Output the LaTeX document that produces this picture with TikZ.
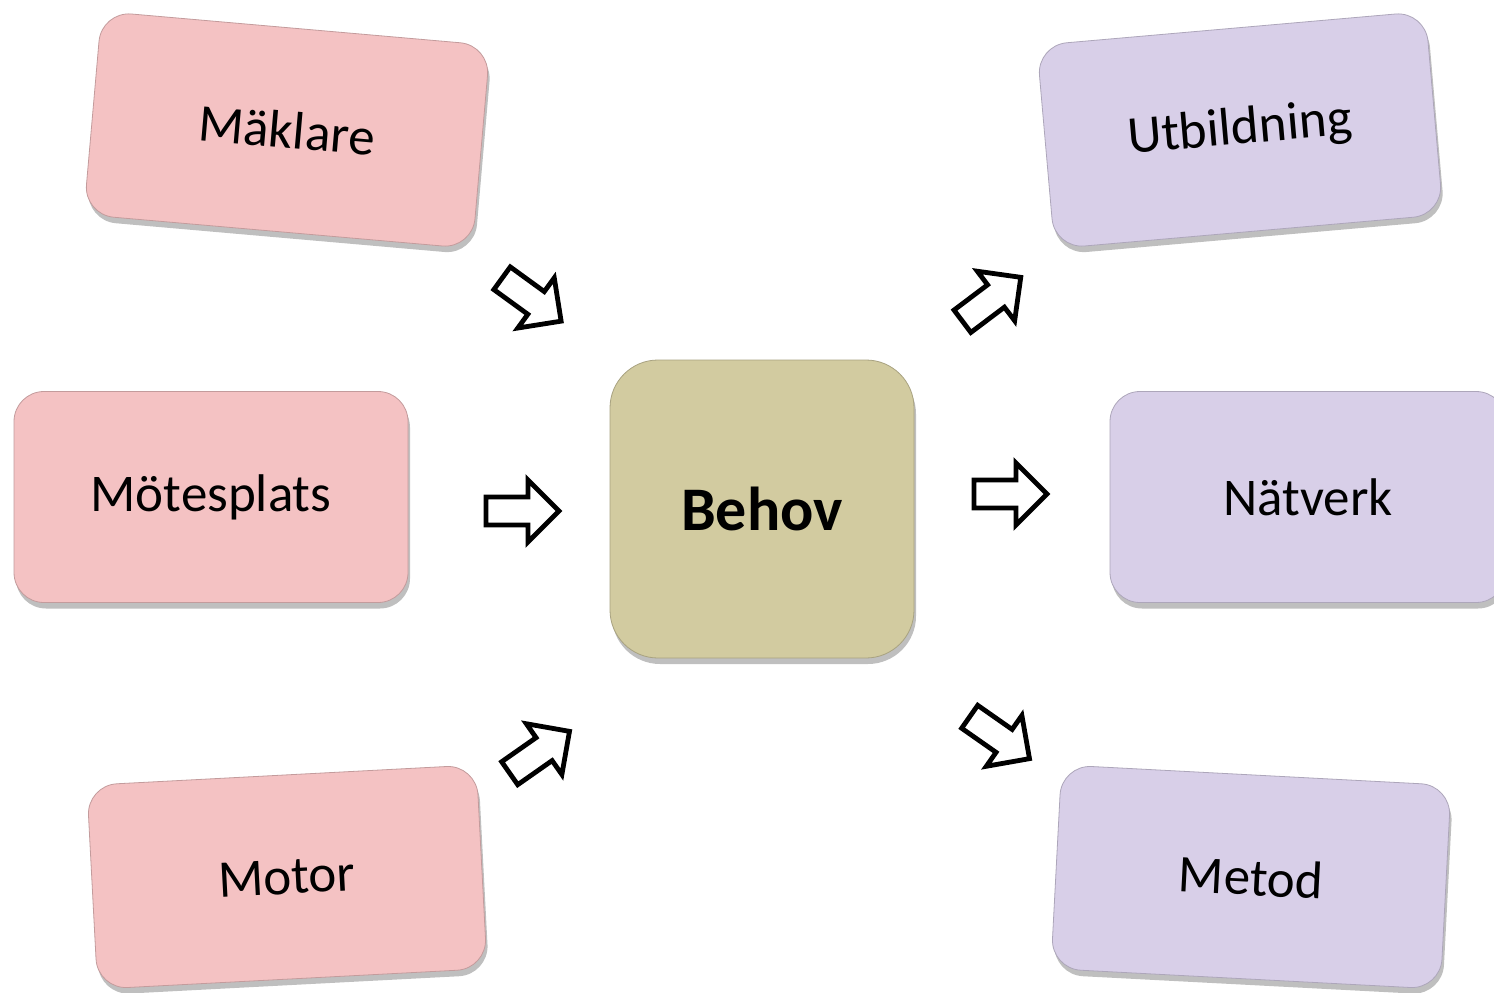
\documentclass[tikz,border=0pt]{standalone}
\usepackage{fontspec}
\setmainfont{Carlito}
\usetikzlibrary{shadows}
\definecolor{pinkfill}{RGB}{244,194,195}
\definecolor{lavfill}{RGB}{216,207,232}
\definecolor{khakifill}{RGB}{210,203,160}
\tikzset{
  box/.style={rounded corners=30pt, minimum width=390pt, minimum height=204pt,
    inner sep=0pt, font=\fontsize{53}{60}\selectfont, fill=#1, draw=#1!80!black,
    line width=0.8pt,
    drop shadow={fill=black, opacity=0.25, shadow xshift=2pt, shadow yshift=-6pt}},
  centerbox/.style={rounded corners=48pt, minimum width=304pt, minimum height=298pt,
    inner sep=0pt, font=\fontsize{62}{70}\selectfont\bfseries, fill=khakifill,
    draw=khakifill!80!black, line width=0.8pt,
    drop shadow={fill=black, opacity=0.25, shadow xshift=2pt, shadow yshift=-6pt}},
  arrowline/.style={draw=black, fill=white, line width=4.8pt, line join=miter},
  blkarrow/.pic={\draw[arrowline] (-37,-14) -- (5,-14) -- (5,-31) -- (36,0) -- (5,31) -- (5,14) -- (-37,14) -- cycle;}
}
\begin{document}
\begin{tikzpicture}[x=1pt,y=-1pt]
\useasboundingbox (0,0) rectangle (1494,993);
\clip (0,0) rectangle (1494,993);
\fill[white] (0,0) rectangle (1494,993);
% left boxes
\node[box=pinkfill, rotate=-5] (maklare) at (287,130) {Mäklare};
\node[box=pinkfill, minimum width=394pt, minimum height=211pt] (motesplats) at (211,497) {Mötesplats};
\node[box=pinkfill, rotate=3] (motor) at (287,877) {Motor};
% center
\node[centerbox] (behov) at (762,509) {Behov};
% right boxes
\node[box=lavfill, rotate=5] (utbildning) at (1240,130) {Utbildning};
\node[box=lavfill, minimum width=396pt, minimum height=211pt] (natverk) at (1308,497) {Nätverk};
\node[box=lavfill, rotate=-3] (metod) at (1251,877) {Metod};
% block arrows
\pic[rotate=-36] (a1) at (532,300) {blkarrow};
\pic (a2) at (523,511) {blkarrow};
\pic[rotate=35] (a3) at (540,752) {blkarrow};
\pic[rotate=37] (a4) at (992,299) {blkarrow};
\pic (a5) at (1011,494) {blkarrow};
\pic[rotate=-35] (a6) at (1000,738) {blkarrow};
\end{tikzpicture}
\end{document}
